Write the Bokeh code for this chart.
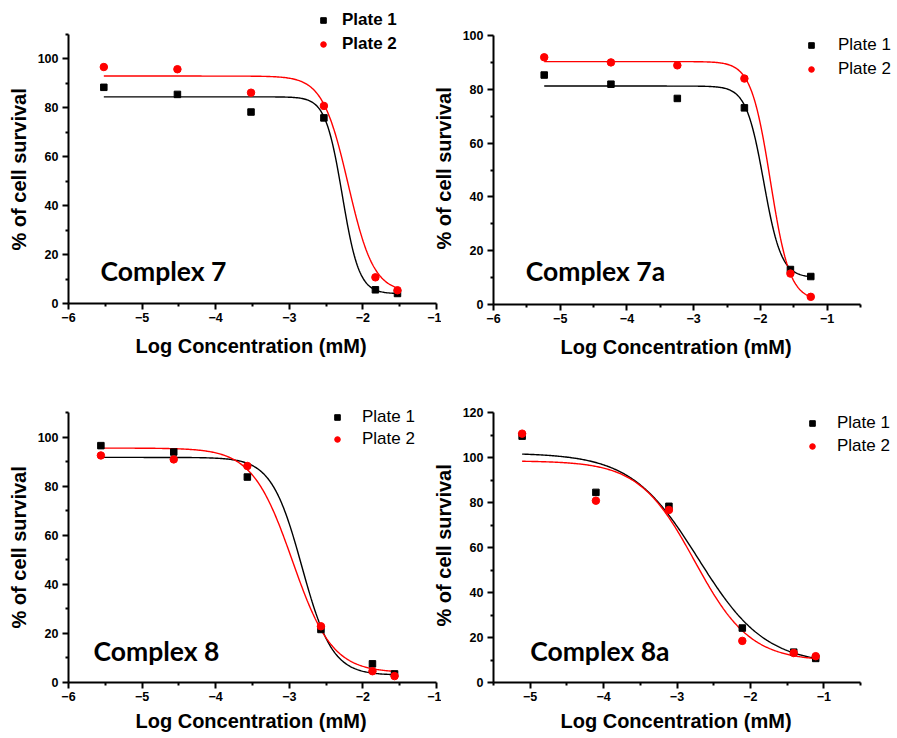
import numpy as np
from bokeh.plotting import figure
from bokeh.models import FixedTicker, Legend, LegendItem, Label, Range1d, Title
from bokeh.layouts import row, column
from bokeh.embed import file_html
from bokeh.resources import INLINE

# ---------------- data ----------------
titles = ["Complex 7", "Complex 7a", "Complex 8", "Complex 8a"]
series_names = ["Plate 1", "Plate 2"]
x_label = "Log Concentration (mM)"
y_label = "% of cell survival"

x_c7 = [-5.52, -4.52, -3.52, -2.53, -1.83, -1.53]
plate1_c7 = [88.4, 85.5, 78.3, 75.9, 5.6, 4.1]
plate2_c7 = [96.7, 95.8, 86.2, 80.8, 10.7, 5.4]

x_c7a = [-5.24, -4.24, -3.245, -2.24, -1.55, -1.245]
plate1_c7a = [85.3, 81.9, 76.6, 73.1, 13.0, 10.4]
plate2_c7a = [91.9, 90.0, 88.9, 84.0, 11.5, 2.85]

x_c8 = [-5.56, -4.57, -3.57, -2.57, -1.87, -1.57]
plate1_c8 = [96.5, 93.9, 83.7, 21.6, 7.6, 3.5]
plate2_c8 = [92.5, 90.9, 88.2, 22.9, 4.6, 2.6]

x_c8a = [-5.11, -4.105, -3.11, -2.11, -1.41, -1.11]
plate1_c8a = [109.5, 84.5, 78.3, 24.2, 13.5, 10.7]
plate2_c8a = [110.6, 80.8, 76.7, 18.5, 13.1, 11.7]

# dose-response fit parameters: [top, bottom, logIC50, hill slope]
fit1_c7 = [84.5, 4.0, -2.28, 3.8]
fit2_c7 = [93.0, 4.5, -2.20, 2.5]
fit1_c7a = [81.2, 10.0, -1.95, 3.3]
fit2_c7a = [90.3, 1.5, -1.85, 3.0]
fit1_c8 = [91.7, 3.0, -2.83, 2.1]
fit2_c8 = [95.5, 4.0, -2.96, 1.6]
fit1_c8a = [102.0, 8.0, -2.71, 0.95]
fit2_c8a = [98.5, 9.5, -2.76, 1.15]

# axis ticks
xticks_a = [-6, -5, -4, -3, -2, -1]
xminor_a = [-5.5, -4.5, -3.5, -2.5, -1.5]
xminor_b = [-5.5, -4.5, -3.5, -2.5, -1.5, -0.5]
xticks_c = [-5, -4, -3, -2, -1]
yticks_100 = [0, 20, 40, 60, 80, 100]
yminor_110 = [10, 30, 50, 70, 90, 110]
yminor_100 = [10, 30, 50, 70, 90]
yticks_120 = [0, 20, 40, 60, 80, 100, 120]

FONT = "Liberation Sans"


def dose_resp(params, x):
    top, bottom, logx0, h = params
    return bottom + (top - bottom) / (1.0 + 10 ** ((x - logx0) * h))


def make_panel(x, y1, y2, f1, f2, title, xr, yr, xt, xm, yt, ym,
               bl, bt, fw, fh, br, bb, leg_loc, leg_standoff, leg_spacing,
               leg_bold, title_xy, xl_off, yl_off, xl_standoff):
    # the frame is extended over the top/right margins so that the legend
    # (which overlaps the margins in the reference) is not clipped; the
    # axes keep their original extent via `bounds`.
    x_end = xr[1] + br * (xr[1] - xr[0]) / fw
    y_end = yr[1] + bt * (yr[1] - yr[0]) / fh
    p = figure(width=bl + fw + br, height=bt + fh + bb,
               frame_width=fw + br, frame_height=fh + bt,
               min_border_left=bl, min_border_right=0,
               min_border_top=0, min_border_bottom=bb,
               x_range=Range1d(xr[0], x_end), y_range=Range1d(yr[0], y_end),
               output_backend="svg", toolbar_location=None)
    p.outline_line_color = None
    p.grid.visible = False
    p.background_fill_color = "white"
    p.border_fill_alpha = 0

    xs = np.linspace(min(x), max(x), 300)
    p.line(xs, dose_resp(f1, xs), line_color="black", line_width=1.4)
    p.line(xs, dose_resp(f2, xs), line_color="#ff0000", line_width=1.4)
    r1 = p.scatter(x, y1, marker="square", size=6.5, fill_color="black",
                   line_color="black")
    r2 = p.scatter(x, y2, marker="circle", size=7.5, fill_color="#ff0000",
                   line_color="#ff0000")

    p.xaxis.ticker = FixedTicker(ticks=xt, minor_ticks=xm)
    p.yaxis.ticker = FixedTicker(ticks=yt, minor_ticks=ym)
    p.xaxis.bounds = xr
    p.yaxis.bounds = yr
    for ax in (p.xaxis[0], p.yaxis[0]):
        ax.axis_line_width = 2
        ax.major_tick_line_width = 2
        ax.minor_tick_line_width = 2
        ax.major_tick_in = 0
        ax.major_tick_out = 6
        ax.minor_tick_in = 0
        ax.minor_tick_out = 3
        ax.major_label_text_font = FONT
        ax.major_label_text_font_style = "bold"
        ax.major_label_text_font_size = "12.5px"
        ax.major_label_text_color = "black"
    p.xaxis.major_label_standoff = 3
    p.yaxis.major_label_standoff = 4

    # axis titles, positioned along the original (un-extended) axis extent
    p.add_layout(Title(text=x_label, align="left", offset=xl_off,
                       standoff=xl_standoff, vertical_align="bottom",
                       text_font=FONT, text_font_style="bold",
                       text_font_size="20px", text_color="black"), "below")
    p.add_layout(Title(text=y_label, align="left", offset=yl_off,
                       standoff=10, vertical_align="bottom",
                       text_font=FONT, text_font_style="bold",
                       text_font_size="20px", text_color="black"), "left")

    legend = Legend(items=[LegendItem(label=series_names[0], renderers=[r1]),
                           LegendItem(label=series_names[1], renderers=[r2])],
                    location=leg_loc, orientation="vertical",
                    glyph_width=14, glyph_height=14, label_height=20,
                    label_standoff=leg_standoff, spacing=leg_spacing,
                    padding=0, margin=0, border_line_color=None,
                    background_fill_alpha=0,
                    label_text_font=FONT, label_text_font_size="17px",
                    label_text_font_style="bold" if leg_bold else "normal",
                    label_text_color="black")
    p.add_layout(legend)

    p.add_layout(Label(x=title_xy[0], y=title_xy[1], text=title,
                       text_font="Lato", text_font_style="bold",
                       text_font_size="26.5px", text_baseline="alphabetic",
                       text_color="black"))
    return p


LEFT_W = 441   # width of the left-hand figures
RIGHT_BL = 72  # left border of the right-hand figures
OVERLAP = LEFT_W - (493 - RIGHT_BL)

p1 = make_panel(x_c7, plate1_c7, plate2_c7, fit1_c7, fit2_c7, titles[0],
                (-6, -1), (0, 110), xticks_a, xminor_a, yticks_100, yminor_110,
                68, 34, 368, 269, LEFT_W - 68 - 368, 67, (248, 249), 12, 4, True,
                (-5.565, 13.3), 67, 53, 17)
p2 = make_panel(x_c7a, plate1_c7a, plate2_c7a, fit1_c7a, fit2_c7a, titles[1],
                (-6, -0.5), (0, 100), xticks_a, xminor_b, yticks_100, yminor_100,
                RIGHT_BL, 35, 367, 269, 37, 66, (311, 225), 20, 4, False,
                (-5.516, 12.3), 67, 55, 17)
p3 = make_panel(x_c8, plate1_c8, plate2_c8, fit1_c8, fit2_c8, titles[2],
                (-6, -1), (0, 110), xticks_a, xminor_a, yticks_100, yminor_110,
                68, 42, 368, 270, LEFT_W - 68 - 368, 56, (262, 233), 18, 2, False,
                (-5.66, 12.65), 67, 54, 9)
p4 = make_panel(x_c8a, plate1_c8a, plate2_c8a, fit1_c8a, fit2_c8a, titles[3],
                (-5.5, -0.5), (0, 120), xticks_c, xminor_b, yticks_120, yminor_110,
                RIGHT_BL, 42, 367, 270, 37, 56, (312, 226), 18, 3, False,
                (-5.0, 13.8), 67, 56, 9)
p2.margin = (0, 0, 0, -OVERLAP)
p4.margin = (0, 0, 0, -OVERLAP)

layout = column(row(p1, p2, spacing=0), row(p3, p4, spacing=0), spacing=0)
open("out.html", "w").write(file_html(layout, INLINE))
